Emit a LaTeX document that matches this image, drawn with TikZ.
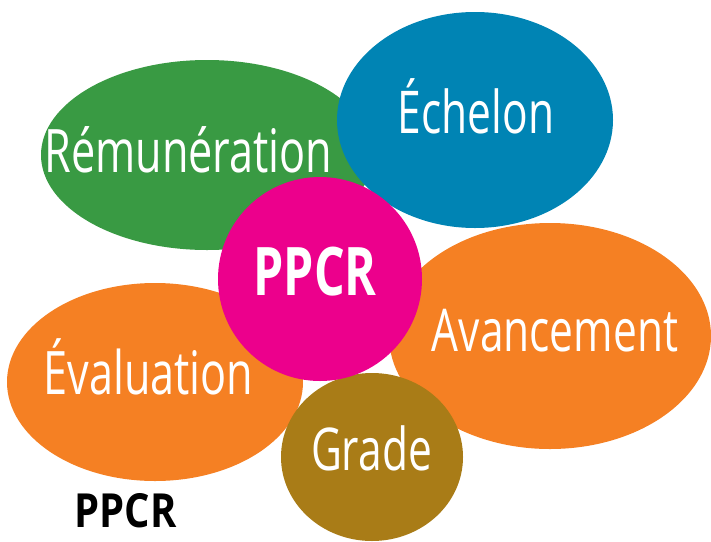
\documentclass[tikz,border=0pt]{standalone}
\usepackage{fontspec}
\newfontfamily\condfont{Open Sans}[FakeStretch=0.72]
\newfontfamily\semicondfont{Open Sans}[FakeStretch=0.85]
\definecolor{vert}{HTML}{399A43}
\definecolor{bleu}{HTML}{0084B4}
\definecolor{rose}{HTML}{EC008C}
\definecolor{orange}{HTML}{F58023}
\definecolor{ocre}{HTML}{A97C17}
\tikzset{mot/.style={text=white, anchor=base, inner sep=0pt}}

\begin{document}
\begin{tikzpicture}[x=1pt,y=-1pt]
\useasboundingbox (0,0) rectangle (711,541);

% bulles
\fill[vert] (207,155) ellipse [x radius=166, y radius=95];
\fill[bleu] (475,120) ellipse [x radius=138, y radius=108];
\fill[orange] (155,382) ellipse [x radius=148, y radius=99];
\fill[orange] (550,336) ellipse [x radius=161, y radius=113];
\fill[ocre] (372,457) ellipse [x radius=91, y radius=84];
\fill[rose] (320,279) circle [radius=102];

% textes
\node[mot, font=\condfont\fontsize{60}{64}\selectfont] (remu) at (188.5,172) {Rémunération};
\node[mot, font=\condfont\fontsize{59}{64}\selectfont] (echelon) at (476,133) {Échelon};
\node[mot, font=\condfont\fontsize{59}{64}\selectfont] (avanc) at (555,351) {Avancement};
\node[mot, font=\condfont\fontsize{60}{64}\selectfont] (eval) at (148.5,394) {Évaluation};
\node[mot, font=\condfont\fontsize{59}{64}\selectfont] (grade) at (371.5,470) {Grade};
\node[mot, font=\condfont\bfseries\fontsize{67}{70}\selectfont] (centre) at (315,295) {PPCR};
\node[anchor=base, inner sep=0pt, font=\semicondfont\bfseries\fontsize{47}{52}\selectfont] (titre) at (125.5,527) {PPCR};
\end{tikzpicture}
\end{document}
